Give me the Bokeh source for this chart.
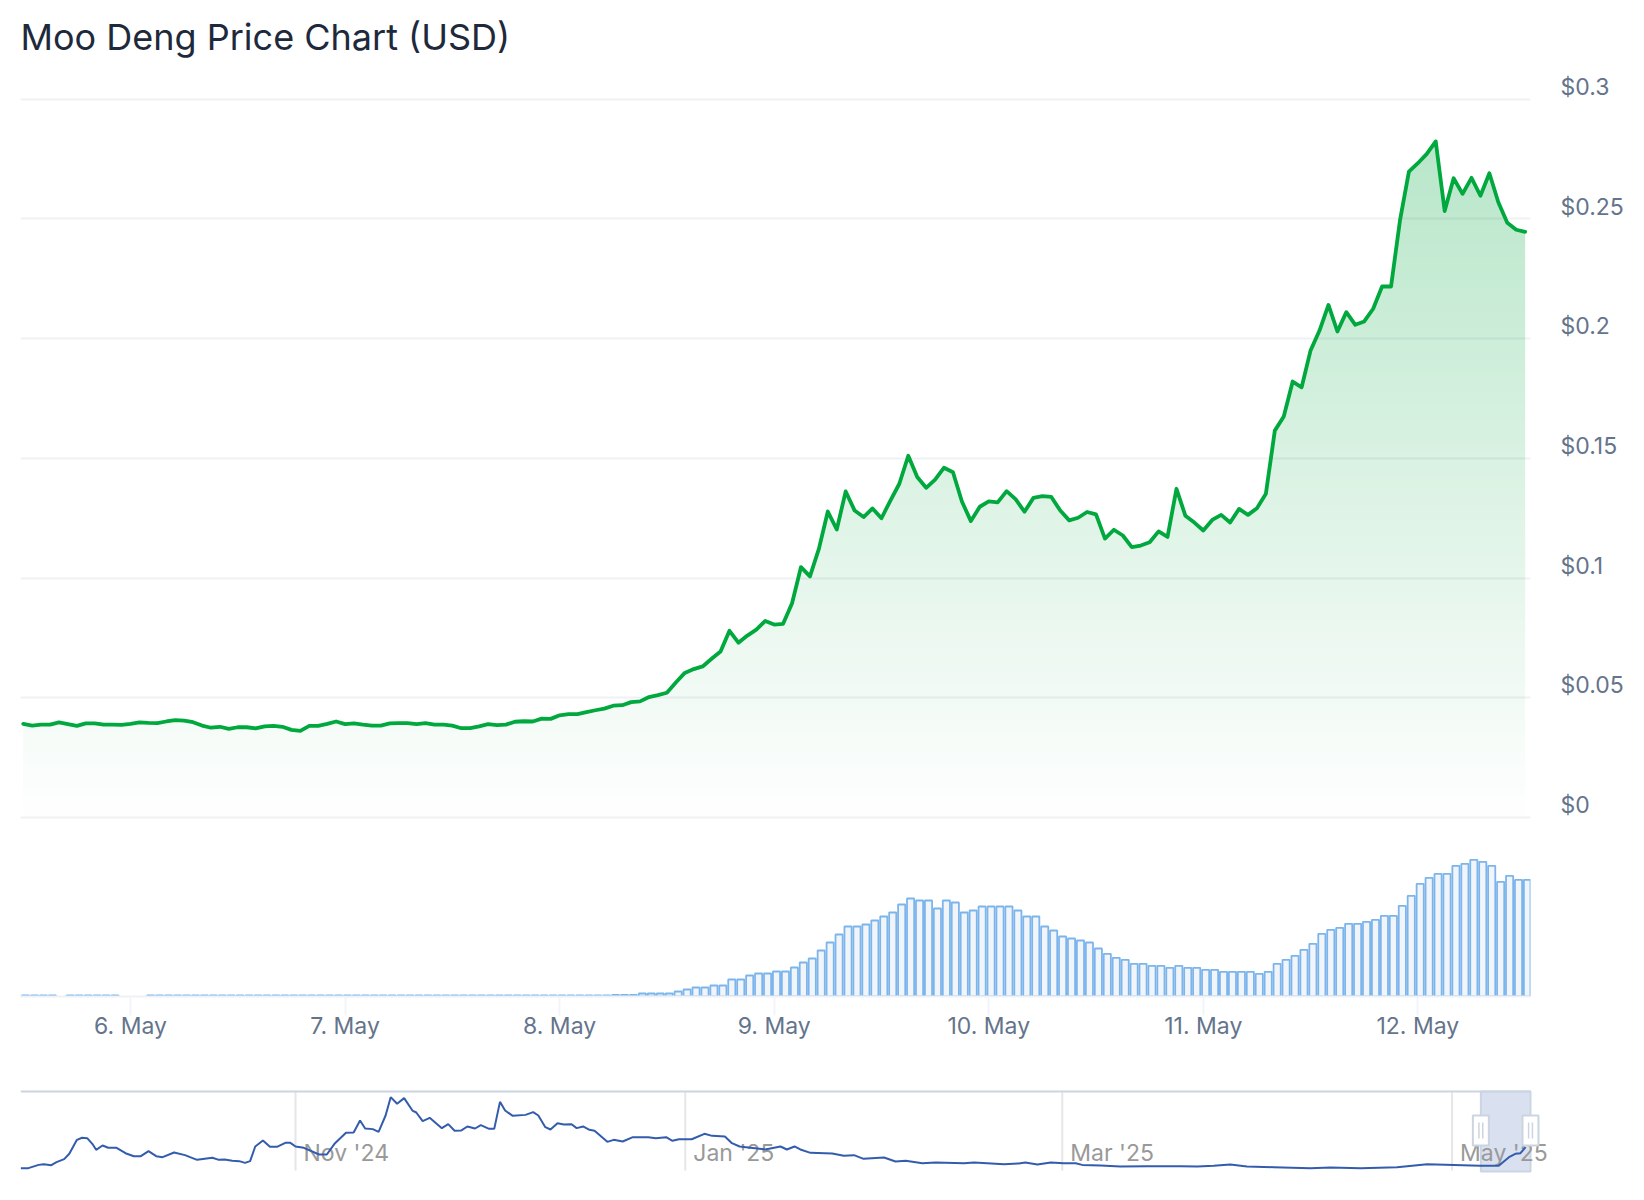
import numpy as np
from bokeh.core.properties import value
from bokeh.embed import file_html
from bokeh.layouts import column, row
from bokeh.models import FixedTicker, LinearAxis, Range1d
from bokeh.plotting import figure
from bokeh.resources import INLINE

TITLE = "Moo Deng Price Chart (USD)"
HOURS = list(range(-12, 157))
PRICE = [
    .0391, .0384, .0388, .0388, .0397, .0390, .0383, .0393, .0393, .0388, .0388, .0387,
    .0391, .0397, .0395, .0394, .0401, .0407, .0405, .0398, .0384, .0375, .0379, .0370,
    .0377, .0377, .0372, .0381, .0383, .0379, .0366, .0362, .0383, .0383, .0391, .0401,
    .0390, .0393, .0388, .0384, .0384, .0393, .0394, .0394, .0390, .0394, .0388, .0388,
    .0384, .0373, .0373, .0381, .0390, .0386, .0388, .0400, .0402, .0401, .0413, .0412,
    .0427, .0432, .0432, .0440, .0448, .0455, .0467, .0469, .0482, .0485, .0503, .0511,
    .0521, .0564, .0604, .0620, .0631, .0663, .0693, .0780, .0730, .0760, .0785, .0821,
    .0806, .0809, .0895, .1046, .1007, .1122, .1278, .1203, .1362, .1282, .1255, .1291,
    .1250, .1324, .1394, .1511, .1422, .1377, .1411, .1461, .1442, .1320, .1238, .1298,
    .1320, .1316, .1363, .1330, .1277, .1335, .1342, .1339, .1282, .1241, .1252, .1276,
    .1266, .1165, .1202, .1178, .1129, .1136, .1150, .1195, .1172, .1373, .1260, .1232,
    .1199, .1243, .1264, .1232, .1289, .1264, .1292, .1352, .1616, .1675, .1821, .1797,
    .1951, .2034, .2141, .2030, .2111, .2058, .2072, .2125, .2218, .2218, .2494, .2698,
    .2733, .2772, .2824, .2533, .2670, .2605, .2672, .2597, .2691, .2570, .2484, .2455,
    .2446,
]
NV = float("nan")
VOLUME = [
    1, 1, 1, 1, NV, 1, 1, 1, 1, 1, 1, NV, NV, NV,
    1, 1, 1, 1, 1, 1, 1, 1, 1, 1, 1, 1, 1, 1, 1, 1, 1,
    1, 1, 1, 1, 1, 1, 1, 1, 1, 1, 1, 1, 1, 1, 1, 1, 1,
    1, 1, 1, 1, 1, 1, 1, 1, 1, 1, 1, 1, 1, 1, 1, 1, 1,
    1, 1.5, 1.5, 1.5, 3, 3, 3, 3, 5, 7, 9, 9, 11, 11, 17, 17, 21, 23, 23, 25, 25,
    29, 34, 38, 46, 54, 62, 70, 70, 72, 76, 80, 84, 92, 98, 96, 96, 88, 96, 94, 84,
    86, 90, 90, 90, 90, 86, 80, 80, 70, 66, 60, 58, 56, 54, 48,
    42.7, 38.7, 36.7, 32.7, 32.7, 30.7, 30.7, 28.7, 30.7, 28.7, 28.7, 26.7, 26.7,
    24.7, 24.7, 24.7, 24.7, 22.7, 24.7, 32.7, 36.7, 40.7, 46.7, 52.7, 62.7, 66.7,
    68.7, 72.7, 72.7, 74.7, 76.7, 80.7, 80.7, 90.7, 100.7, 112.7, 118.7, 122.7,
    122.7, 130.7, 132.7, 136.7, 134.7, 130.7, 114.7, 120.7, 116.7, 116.7,
]
PRICE_TICKS = [0, 0.05, 0.1, 0.15, 0.2, 0.25, 0.3]
PRICE_LABELS = ["$0", "$0.05", "$0.1", "$0.15", "$0.2", "$0.25", "$0.3"]
DAY_TICKS = [0, 24, 48, 72, 96, 120, 144]
DAY_LABELS = ["6. May", "7. May", "8. May", "9. May", "10. May", "11. May", "12. May"]

NAV_DAYS = [
    -43.0, -41.8, -40.2, -39.4, -38.2, -37.4, -36.2, -35.4, -34.2, -33.4, -32.6, -31.8, -31.2,
    -30.2, -29.3, -28.0, -26.6, -25.3, -24.2, -23.0, -21.8, -20.8, -19.0, -17.3, -15.4, -13.0,
    -12.0, -11.1, -9.9, -8.8, -7.9, -7.1, -6.3, -5.1, -4.0, -2.9, -1.6, -0.8, 0.0, 1.3, 3.7,
    4.9, 6.1, 7.9, 9.1, 10.1, 10.9, 12.1, 13.0, 14.1, 14.9, 15.9, 17.0, 18.3, 18.9, 19.9, 21.0,
    22.9, 23.9, 24.9, 25.9, 26.9, 28.1, 29.0, 30.3, 31.1, 32.0, 32.8, 34.0, 36.0, 37.2, 38.0,
    39.1, 39.9, 41.0, 42.0, 43.2, 44.0, 45.0, 46.0, 46.8, 48.8, 49.8, 51.2, 52.8, 55.2, 56.4,
    58.0, 59.0, 60.0, 62.0, 64.0, 65.2, 67.2, 68.3, 69.5, 71.9, 73.5, 75.9, 76.9, 78.1, 79.0,
    80.6, 84.0, 85.8, 87.4, 88.9, 92.1, 93.9, 95.5, 98.1, 100.2, 104.6, 106.2, 110.9, 113.2,
    114.2, 116.1, 118.2, 120.2, 122.1, 123.1, 126.0, 129.1, 133.3, 138.5, 141.1, 143.7, 146.3,
    148.9, 153.1, 158.8, 162.0, 166.7, 172.4, 177.1, 181.3, 185.4, 188.3, 189.9, 190.9, 191.7,
    192.5,
]
NAV_PRICE = [
    .010, .010, .047, .055, .044, .078, .112, .172, .330, .353, .349, .285, .217,
    .266, .240, .240, .179, .145, .145, .202, .145, .134, .187, .157, .104, .127,
    .104, .108, .093, .089, .070, .089, .255, .322, .251, .251, .296, .296, .255, .240, .164,
    .164, .285, .409, .413, .548, .458, .451, .420, .605, .812, .737, .801, .661, .639, .541, .579,
    .462, .507, .432, .435, .481, .458, .496, .454, .454, .759, .661, .601, .612, .643, .605,
    .473, .447, .518, .503, .507, .462, .481, .443, .432, .307, .330, .311, .360, .360, .349,
    .360, .319, .337, .337, .398, .375, .368, .292, .255, .236, .221, .255, .221, .255, .221,
    .183, .176, .149, .157, .115, .130, .085, .093, .066, .074, .066, .074, .055, .063,
    .074, .051, .074, .066, .066, .047, .040, .029, .032, .032, .029, .036, .051,
    .029, .021, .010, .017, .010, .021, .055, .047, .036, .036, .134, .172, .179,
    .247,
]
NAV_TICKS = [0, 61, 120, 181]
NAV_LABELS = ["Nov '24", "Jan '25", "Mar '25", "May '25"]

# layout and style constants
FONT = "Inter"
TICK_SIZE = "23px"
WIDTH = 1636
PX_PER_HOUR = 8.94
PRICE_PER_PX = 0.0004177
GREEN = "#00a83e"
LAB = "#64748b"
GRID_RGB = "#0f2a4a"
BAR_LINE = "#7cb5ec"
NAV_EDGE = "#cbd5e1"

x_start, x_end = -110 / PX_PER_HOUR, 1400 / PX_PER_HOUR
y_start, y_end = -8 * PRICE_PER_PX, 747 * PRICE_PER_PX
shift = 12.3 * PRICE_PER_PX

# ---- price pane
p = figure(width=WIDTH, height=833, output_backend="svg", toolbar_location=None,
           x_range=Range1d(x_start, x_end), y_range=Range1d(y_start, y_end),
           x_axis_location=None, y_axis_location=None,
           min_border_left=20, min_border_right=106, min_border_top=70, min_border_bottom=8,
           outline_line_color=None, title=TITLE)
p.title.text_font = FONT
p.title.text_font_size = "36px"
p.title.text_font_style = "normal"
p.title.text_color = "#1e293b"
p.title.align = "left"
p.title.standoff = 24
p.title.offset = 0

p.extra_y_ranges = {"labels": Range1d(y_start - shift, y_end - shift)}
price_axis = LinearAxis(y_range_name="labels", ticker=FixedTicker(ticks=PRICE_TICKS),
                        major_label_overrides=dict(zip(PRICE_TICKS, PRICE_LABELS)),
                        axis_line_color=None, major_tick_line_color=None, minor_tick_line_color=None,
                        major_tick_in=0, major_tick_out=0, major_label_standoff=30,
                        major_label_text_font=FONT, major_label_text_font_size=TICK_SIZE,
                        major_label_text_color=LAB)
p.add_layout(price_axis, "right")
grid_axis = LinearAxis(ticker=FixedTicker(ticks=PRICE_TICKS), visible=False)
p.add_layout(grid_axis, "left")

p.xgrid.visible = False
p.ygrid.ticker = FixedTicker(ticks=PRICE_TICKS)
p.ygrid.grid_line_color = GRID_RGB
p.ygrid.grid_line_alpha = 0.065
p.ygrid.grid_line_width = 2

# vertical gradient under the line: opaque image, covered above the line by a white area
top = max(PRICE)
levels = np.linspace(0, 1, 256) * 0.275
r, g, b = int(GREEN[1:3], 16), int(GREEN[3:5], 16), int(GREEN[5:7], 16)
rr = (255 + (r - 255) * levels).astype(np.uint32)
gg = (255 + (g - 255) * levels).astype(np.uint32)
bb = (255 + (b - 255) * levels).astype(np.uint32)
grad = np.zeros((256, 4), dtype=np.uint32)
grad[:, :] = ((255 << 24) | (bb << 16) | (gg << 8) | rr)[:, None]
p.image_rgba(image=[grad], x=HOURS[0], y=0, dw=HOURS[-1] - HOURS[0], dh=top, level="image")
mask_x = [HOURS[0] - 1] + HOURS + [HOURS[-1] + 1]
mask_y = [PRICE[0]] + PRICE + [PRICE[-1]]
p.varea(x=mask_x, y1=mask_y, y2=[y_end] * len(mask_x), fill_color="white", level="image")
p.line(HOURS, PRICE, line_color=GREEN, line_width=3.8, line_join="round", line_cap="round")

# ---- volume pane
v = figure(width=WIDTH, height=252, output_backend="svg", toolbar_location=None,
           x_range=Range1d(x_start, x_end), y_range=Range1d(0, 163),
           y_axis_location=None,
           min_border_left=20, min_border_right=106, min_border_top=0, min_border_bottom=89,
           outline_line_color=None)
v.grid.visible = False
v.vbar(x=[h + 0.26 for h in HOURS], top=VOLUME, bottom=0, width=0.8,
       fill_color="#f1f5f9", line_color=BAR_LINE, line_width=1.8)
ax = v.xaxis[0]
ax.ticker = FixedTicker(ticks=DAY_TICKS)
ax.major_label_overrides = dict(zip(DAY_TICKS, DAY_LABELS))
ax.axis_line_color = "#eef2f6"
ax.axis_line_width = 2
ax.major_tick_line_color = "#f1f5f9"
ax.major_tick_line_width = 2
ax.major_tick_in = 0
ax.major_tick_out = 19
ax.minor_tick_line_color = None
ax.major_label_standoff = -4
ax.major_label_text_font = FONT
ax.major_label_text_font_size = TICK_SIZE
ax.major_label_text_color = LAB

# ---- navigator pane
PX_PER_DAY = 6.39
nav_x0, nav_x1 = -275 / PX_PER_DAY, 1341 / PX_PER_DAY
nav_y0, nav_y1 = -0.0617, 0.910
nav_top, nav_bot, nav_right = 0.876, -0.028, 193.27
n = figure(width=WIDTH, height=105, output_backend="svg", toolbar_location=None,
           x_range=Range1d(nav_x0, nav_x1), y_range=Range1d(nav_y0, nav_y1),
           x_axis_location=None, y_axis_location=None,
           min_border_left=20, min_border_right=0, min_border_top=3, min_border_bottom=16,
           outline_line_color=None)
n.grid.visible = False
n.segment(x0=NAV_TICKS, x1=NAV_TICKS, y0=[-0.0165] * 4, y1=[nav_top] * 4,
          line_color="#e6e6e6", line_width=2)
sel_left = NAV_DAYS[-1] - 7
n.quad(left=[sel_left], right=[nav_right], bottom=[nav_bot], top=[nav_top],
       fill_color="#6685c2", fill_alpha=0.25, line_color=NAV_EDGE, line_width=2)
n.segment(x0=[-43.04], x1=[nav_right], y0=[nav_top], y1=[nav_top], line_color=NAV_EDGE, line_width=2)
n.text(x=NAV_TICKS, y=[0.074] * 4, text=NAV_LABELS, x_offset=8, y_offset=-9,
       text_font=value(FONT), text_font_size=TICK_SIZE, text_color="#999999",
       text_align="left", text_baseline="alphabetic")
n.line(NAV_DAYS, NAV_PRICE, line_color="#335cad", line_width=2)
for cx in (sel_left, nav_right):
    n.quad(left=[cx - 1.25], right=[cx + 1.25], bottom=[0.266], top=[0.605],
           fill_color="white", line_color=NAV_EDGE, line_width=2)
    n.segment(x0=[cx - 0.3, cx + 0.3], x1=[cx - 0.3, cx + 0.3], y0=[0.345, 0.345], y1=[0.525, 0.525],
              line_color=NAV_EDGE, line_width=1.5)

layout = column(column(p, v, spacing=0), row(n, spacing=0), spacing=0)
open("out.html", "w").write(file_html(layout, INLINE))
